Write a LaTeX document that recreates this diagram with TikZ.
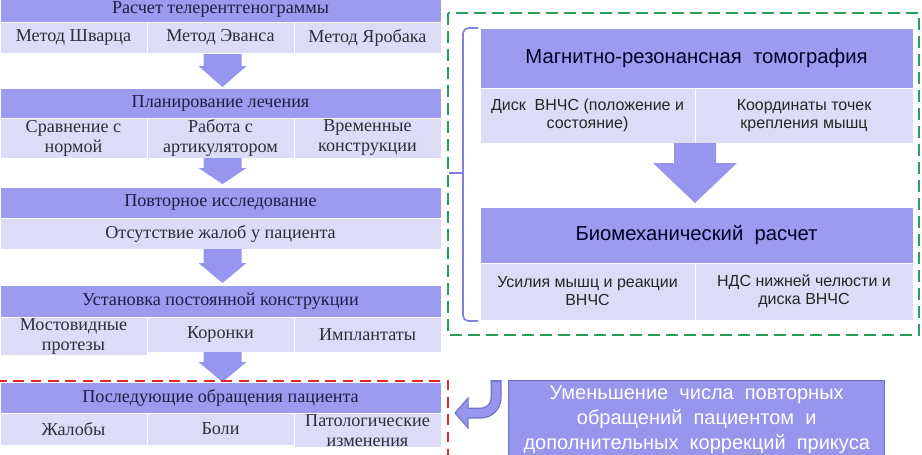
\documentclass[tikz,border=0pt]{standalone}
\usepackage{fontspec}
\setmainfont{Liberation Serif}
\newfontfamily\sansf{Liberation Sans}
\usetikzlibrary{calc}
\definecolor{hdrc}{RGB}{155,155,240}
\definecolor{subc}{RGB}{220,220,247}
\definecolor{arrc}{RGB}{150,150,238}
\definecolor{txtc}{RGB}{30,30,70}
\definecolor{subt}{RGB}{45,45,55}
\definecolor{grn}{RGB}{40,160,90}
\definecolor{redd}{RGB}{222,40,40}
\definecolor{brk}{RGB}{128,128,224}
\definecolor{boxc}{RGB}{150,150,236}
\definecolor{boxb}{RGB}{110,110,200}
\newcommand\cellnode[7]{\node[#6, minimum width=#4*0.75pt, minimum height=#5*0.75pt] (#1) at (#2,#3) {#7};}
% block arrow: from anchor #1 to anchor #2; #3 shaft half, #4 head half, #5 head length (pt)
\newcommand\barrow[5]{\fill[arrc] let \p1=(#1), \p2=(#2) in
  (\x1-#3,\y1) -- (\x1+#3,\y1) -- (\x1+#3,\y2+#5) -- (\x1+#4,\y2+#5) -- (\x1,\y2) -- (\x1-#4,\y2+#5) -- (\x1-#3,\y2+#5) -- cycle;}
\begin{document}
\begin{tikzpicture}[x=0.75pt,y=-0.75pt,
  base/.style={inner sep=1pt, outer sep=0pt, anchor=north west, draw=white, line width=0.6pt, align=center},
  lhdr/.style={base, fill=hdrc, text=txtc, font=\fontsize{13.6}{15}\selectfont},
  lsub/.style={base, fill=subc, text=subt, font=\fontsize{13.6}{15}\selectfont},
  rhdr/.style={base, fill=hdrc, text=black!85!blue, font=\sansf\fontsize{15.2}{17}\selectfont},
  rsub/.style={base, fill=subc, text=black!85, font=\sansf\fontsize{12}{13.5}\selectfont},
  ubox/.style={inner sep=1pt, anchor=north west, fill=boxc, draw=boxb, line width=1pt, align=center, text=white, font=\sansf\fontsize{15}{19}\selectfont}]
\useasboundingbox (0,0) rectangle (922,454);
\clip (0,0) rectangle (922,454);
% ---- left column ----
\cellnode{b1h}{0}{-3}{441}{25}{lhdr}{Расчет телерентгенограммы}
\cellnode{b1a}{0}{22}{147}{31}{lsub}{Метод Шварца}
\cellnode{b1b}{147}{22}{147}{31}{lsub}{Метод Эванса}
\cellnode{b1c}{294}{22}{147}{31}{lsub}{Метод Яробака}
\cellnode{b2h}{0}{88}{441}{30}{lhdr}{Планирование лечения}
\cellnode{b2a}{0}{118}{147}{40}{lsub}{Сравнение с\\нормой}
\cellnode{b2b}{147}{118}{147}{40}{lsub}{Работа с\\артикулятором}
\cellnode{b2c}{294}{118}{147}{40}{lsub}{Временные\\конструкции}
\cellnode{b3h}{0}{187}{441}{31}{lhdr}{Повторное исследование}
\cellnode{b3a}{0}{218}{441}{31}{lsub}{Отсутствие жалоб у пациента}
\cellnode{b4h}{0}{285}{441}{32}{lhdr}{Установка постоянной конструкции}
\cellnode{b4a}{0}{317}{147}{35}{lsub}{Мостовидные\\протезы}
\cellnode{b4b}{147}{317}{147}{35}{lsub}{Коронки}
\cellnode{b4c}{294}{317}{147}{35}{lsub}{Имплантаты}
\cellnode{b5h}{0}{382}{441}{31}{lhdr}{Последующие обращения пациента}
\cellnode{b5a}{0}{413}{147}{32}{lsub}{Жалобы}
\cellnode{b5b}{147}{413}{147}{32}{lsub}{Боли}
\cellnode{b5c}{294}{413}{147}{32}{lsub}{Патологические\\изменения}
\barrow{$(b1b.south)+(2,1)$}{$(b2h.north)+(2,-1)$}{14.25pt}{18pt}{15.75pt}
\barrow{$(b2b.south)+(2,0)$}{$(b3h.north)+(2,-3)$}{14.25pt}{18pt}{12pt}
\barrow{$(b3a.south)+(2,0)$}{$(b4h.north)+(2,-2)$}{14.25pt}{18pt}{15pt}
\barrow{$(b4b.south)+(2,0)$}{$(b5h.north)+(2,0)$}{14.25pt}{18pt}{15pt}
\draw[redd, line width=1.5pt, dash pattern=on 8pt off 5pt] (-4,381) -- (448,381) -- (448,470);
% ---- right column ----
\draw[grn, line width=1.8pt, dash pattern=on 9pt off 4.5pt] (448,13) rectangle (919,335);
\cellnode{mh}{480}{28}{433}{60}{rhdr}{Магнитно-резонансная\ \ томография}
\cellnode{ma}{480}{88}{215}{55}{rsub}{Диск\ \ ВНЧС (положение и\\состояние)}
\cellnode{mb}{695}{88}{218}{55}{rsub}{Координаты точек\\крепления мышц}
\cellnode{bh}{480}{207}{433}{56}{rhdr}{Биомеханический\ \ расчет}
\cellnode{ba}{480}{263}{215}{57}{rsub}{Усилия мышц и реакции\\ВНЧС}
\cellnode{bb}{695}{263}{218}{57}{rsub}{НДС нижней челюсти и\\диска ВНЧС}
\barrow{ma.south east}{$(bh.north)+(-1.5,-4)$}{15.75pt}{31.5pt}{30pt}
% bracket
\coordinate (brt) at (478,28);
\coordinate (brb) at (478,321);
\coordinate (brm) at (449,173);
\draw[brk, line width=1.2pt, rounded corners=4pt] (brt) -- (463,28) -- (463,321) -- (brb);
\draw[brk, line width=1.2pt] (463,173) -- (brm);
% bottom right box
\cellnode{ub}{508}{380}{376}{78}{ubox}{Уменьшение\ \ числа\ \ повторных\\обращений\ \ пациентом\ \ и\\дополнительных\ \ коррекций\ \ прикуса}
% curved arrow
\coordinate (ca0) at (496,380);
\coordinate (ca1) at (467,413);
\draw[boxb, line width=11pt*0.75] (ca0) -- (496,398) arc[start angle=0, end angle=90, radius=15] -- (ca1);
\filldraw[fill=boxc, draw=boxb, line width=0.75pt] (468,398) -- (468,428) -- (455,413) -- cycle;
\draw[boxc, line width=8.5pt*0.75] ($(ca0)+(0,1.5)$) -- (496,398) arc[start angle=0, end angle=90, radius=15] -- (466,413);
\end{tikzpicture}
\end{document}
